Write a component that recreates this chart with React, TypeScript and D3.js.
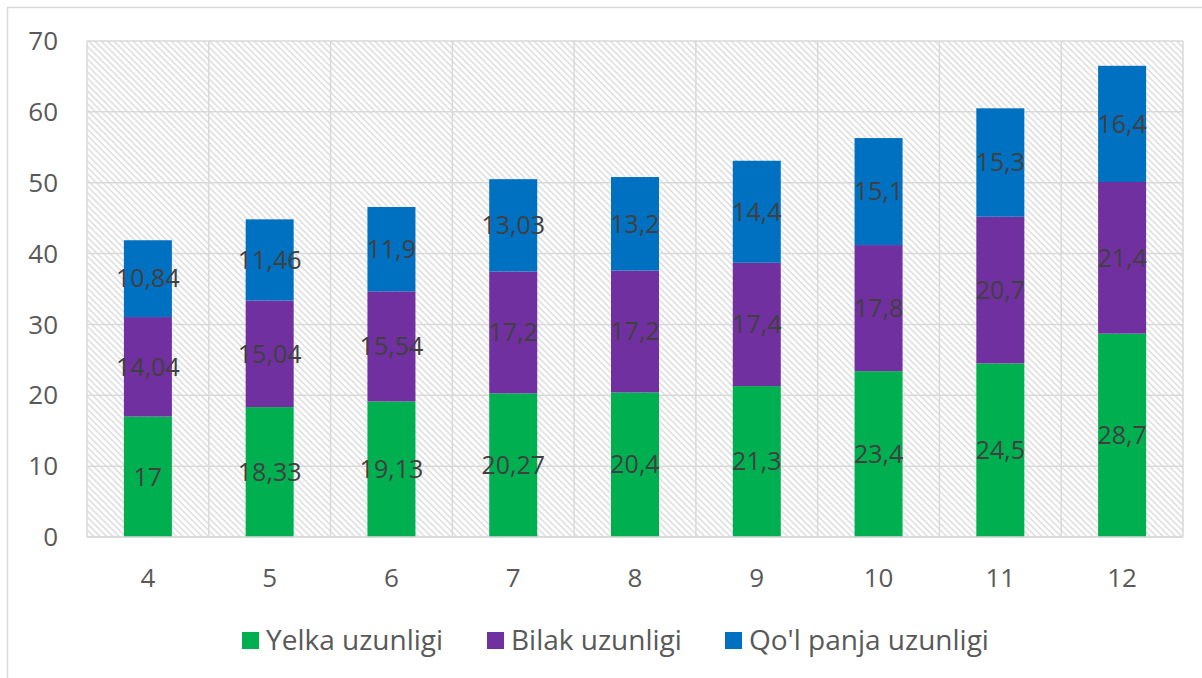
import React, { useEffect, useRef } from 'react';
import * as d3 from 'd3';

const categories = ['4', '5', '6', '7', '8', '9', '10', '11', '12'];
const yelka = [17, 18.33, 19.13, 20.27, 20.4, 21.3, 23.4, 24.5, 28.7];
const bilak = [14.04, 15.04, 15.54, 17.2, 17.2, 17.4, 17.8, 20.7, 21.4];
const panja = [10.84, 11.46, 11.9, 13.03, 13.2, 14.4, 15.1, 15.3, 16.4];
const seriesNames = ['Yelka uzunligi', 'Bilak uzunligi', "Qo'l panja uzunligi"];
const colors = ['#00B050', '#7030A0', '#0070C0'];

const W = 1202;
const H = 678;

function App() {
  const ref = useRef<SVGSVGElement>(null);

  useEffect(() => {
    const svg = d3.select(ref.current);
    svg.selectAll('*').remove();
    const font = '"Open Sans", sans-serif';

    const margin = { left: 87, top: 41, right: 19, bottom: 141 };
    const width = W - margin.left - margin.right;
    const height = H - margin.top - margin.bottom;

    const defs = svg.append('defs');
    const pat = defs.append('pattern')
      .attr('id', 'hatch')
      .attr('patternUnits', 'userSpaceOnUse')
      .attr('width', 4.5)
      .attr('height', 4.5)
      .attr('patternTransform', 'rotate(-45)');
    pat.append('line')
      .attr('x1', 1).attr('y1', 0).attr('x2', 1).attr('y2', 4.5)
      .attr('stroke', '#d6d6d6').attr('stroke-width', 1.3);

    // chart area border
    svg.append('rect')
      .attr('x', 7.5).attr('y', 7.5)
      .attr('width', W + 10).attr('height', H + 10)
      .attr('fill', 'none').attr('stroke', '#d9d9d9').attr('stroke-width', 1.5);

    const g = svg.append('g').attr('transform', `translate(${margin.left},${margin.top})`);

    const x = d3.scaleBand().domain(categories).range([0, width]).paddingInner(0).paddingOuter(0);
    const y = d3.scaleLinear().domain([0, 70]).range([height, 0]);

    g.append('rect').attr('width', width).attr('height', height).attr('fill', 'url(#hatch)');

    // horizontal grid
    g.selectAll('.hg').data(y.ticks(7)).enter().append('line')
      .attr('x1', 0).attr('x2', width)
      .attr('y1', d => y(d)).attr('y2', d => y(d))
      .attr('stroke', '#d9d9d9').attr('stroke-width', 1.5);

    // vertical grid at category boundaries
    const bounds = categories.map(c => x(c) as number).concat([width]);
    g.selectAll('.vg').data(bounds).enter().append('line')
      .attr('x1', d => d).attr('x2', d => d)
      .attr('y1', 0).attr('y2', height)
      .attr('stroke', '#d9d9d9').attr('stroke-width', 1.5);

    // y tick labels
    g.selectAll('.yt').data(y.ticks(7)).enter().append('text')
      .attr('x', -29).attr('y', d => y(d)).attr('dy', '0.35em')
      .attr('text-anchor', 'end')
      .attr('font-family', font).attr('font-size', 26).attr('fill', '#595959')
      .text(d => d);

    // x tick labels
    g.selectAll('.xt').data(categories).enter().append('text')
      .attr('x', d => (x(d) as number) + x.bandwidth() / 2)
      .attr('y', height + 41).attr('dy', '0.35em')
      .attr('text-anchor', 'middle')
      .attr('font-family', font).attr('font-size', 26).attr('fill', '#595959')
      .text(d => d);

    const table = categories.map((c, i) => ({ cat: c, a: yelka[i], b: bilak[i], c: panja[i] }));
    const stack = d3.stack<any>().keys(['a', 'b', 'c'])(table);

    const barW = 48;
    stack.forEach((layer, si) => {
      g.selectAll(`.bar${si}`).data(layer).enter().append('rect')
        .attr('x', d => (x(d.data.cat) as number) + (x.bandwidth() - barW) / 2)
        .attr('y', d => y(d[1]))
        .attr('width', barW)
        .attr('height', d => y(d[0]) - y(d[1]))
        .attr('fill', colors[si]);
      g.selectAll(`.lbl${si}`).data(layer).enter().append('text')
        .attr('x', d => (x(d.data.cat) as number) + x.bandwidth() / 2)
        .attr('y', d => (y(d[0]) + y(d[1])) / 2)
        .attr('dy', '0.35em')
        .attr('text-anchor', 'middle')
        .attr('font-family', font).attr('font-size', 25).attr('fill', '#404040')
        .text(d => String(d.data[layer.key]).replace('.', ','));
    });

    // bottom axis line
    g.append('line').attr('x1', 0).attr('x2', width).attr('y1', height).attr('y2', height)
      .attr('stroke', '#d9d9d9').attr('stroke-width', 1.5);

    // legend
    const legendX = [242, 487, 725];
    const lg = svg.append('g');
    seriesNames.forEach((name, i) => {
      lg.append('rect').attr('x', legendX[i]).attr('y', 632).attr('width', 17).attr('height', 17)
        .attr('fill', colors[i]);
      lg.append('text').attr('x', legendX[i] + 24).attr('y', 640).attr('dy', '0.35em')
        .attr('font-family', font).attr('font-size', 28).attr('fill', '#595959')
        .text(name);
    });
  }, []);

  return (
    <svg ref={ref} width={W} height={H}
      style={{ position: 'absolute', left: 0, top: 0, background: '#fff' }} />
  );
}

export default App;
